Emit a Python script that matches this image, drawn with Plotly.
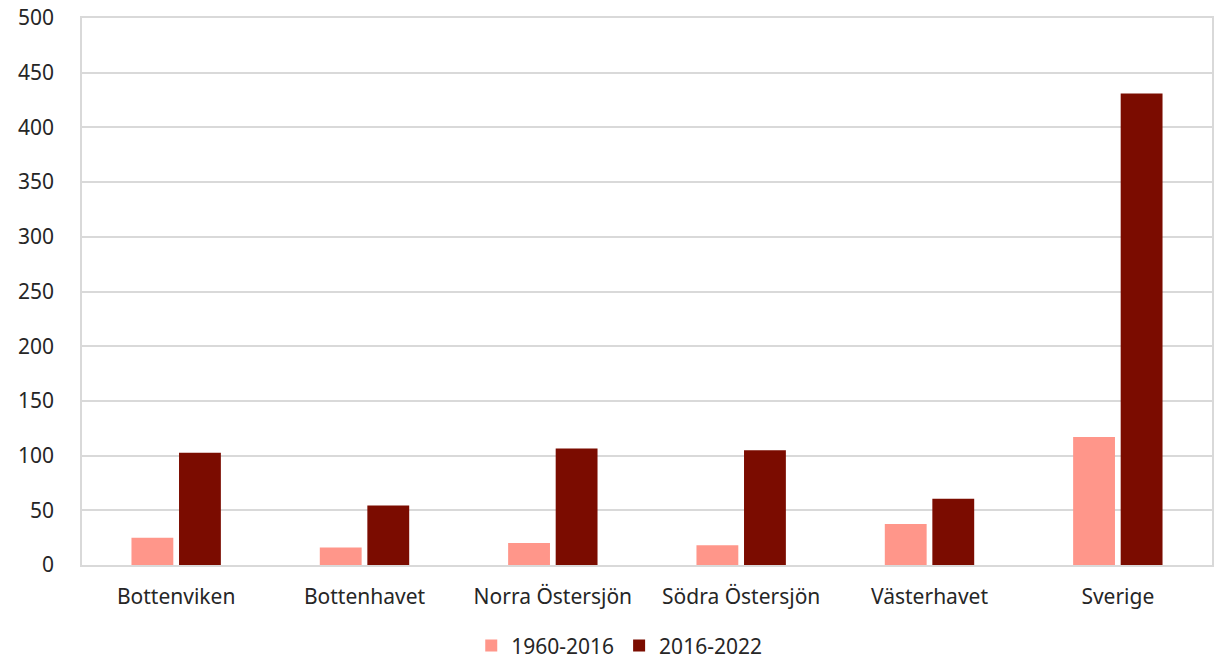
import plotly.graph_objects as go

categories = ["Bottenviken", "Bottenhavet", "Norra Östersjön", "Södra Östersjön", "Västerhavet", "Sverige"]
series_1960_2016 = [25, 16, 20, 18, 37.5, 117]
series_2016_2022 = [102.5, 54.5, 106.5, 105, 60.5, 431]
y_ticks = [0, 50, 100, 150, 200, 250, 300, 350, 400, 450, 500]

fig = go.Figure()
fig.add_trace(go.Bar(name="1960-2016", x=categories, y=series_1960_2016,
                     marker=dict(color="#FF968A", line=dict(width=0))))
fig.add_trace(go.Bar(name="2016-2022", x=categories, y=series_2016_2022,
                     marker=dict(color="#7B0C00", line=dict(width=0))))

font = "Noto Sans, Liberation Sans, Arial, sans-serif"
fig.update_layout(
    width=1219, height=661,
    margin=dict(l=82, r=7, t=18, b=96, autoexpand=False),
    paper_bgcolor="white", plot_bgcolor="white",
    barmode="group", bargap=0.495, bargroupgap=0.12,
    font=dict(family=font, size=21, color="#262626"),
    showlegend=True,
    legend=dict(orientation="h", x=0.508, xanchor="center", xref="container",
                y=0.023, yanchor="middle", yref="container",
                font=dict(size=21, color="#262626"), traceorder="normal"),
)
fig.update_yaxes(range=[0, 500], tickvals=y_ticks, showgrid=True, gridcolor="#D9D9D9",
                 gridwidth=1.5, showline=True, linecolor="#D9D9D9", linewidth=1.5,
                 mirror=True, zeroline=False, ticks="", ticklabelstandoff=22,
                 automargin=False, tickfont=dict(size=21))
fig.update_xaxes(showline=True, linecolor="#D9D9D9", linewidth=2, mirror=True,
                 ticks="", ticklabelstandoff=12, automargin=False, tickfont=dict(size=21))

fig.write_html("out.html", config={"displayModeBar": False},
               post_script="document.body.style.margin='0';document.body.style.overflow='hidden';")
